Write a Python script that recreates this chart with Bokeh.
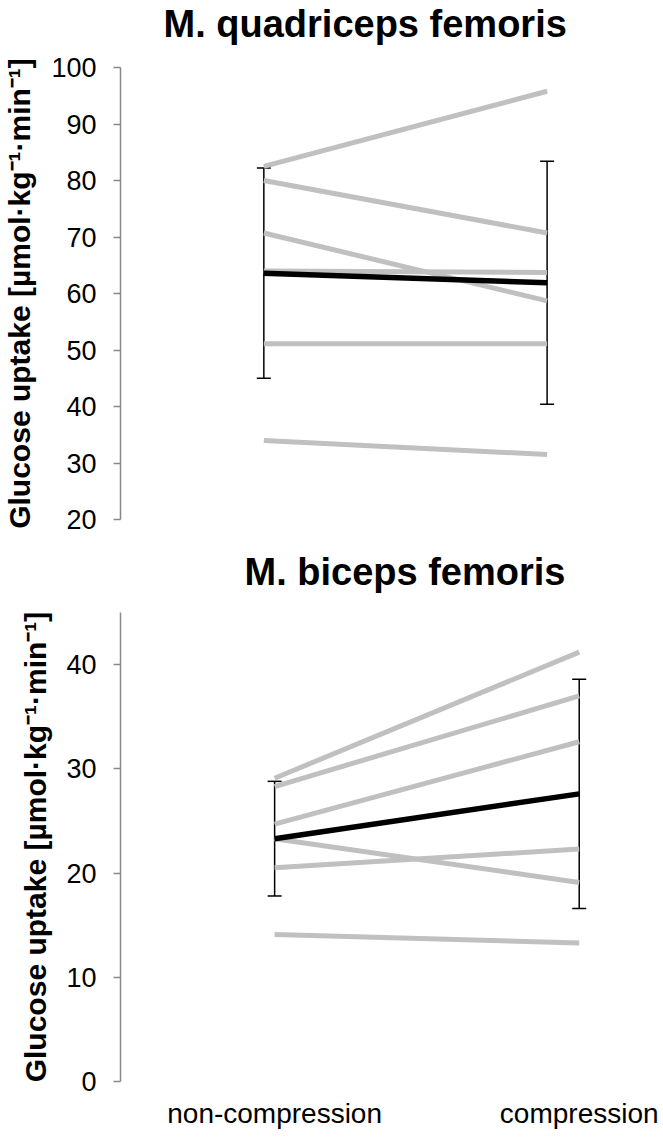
from bokeh.plotting import figure
from bokeh.models import ColumnDataSource, Whisker, Range1d, FixedTicker, TeeHead, Title
from bokeh.layouts import column
from bokeh.embed import file_html
from bokeh.resources import INLINE

# ---- data ----
categories = ["non-compression", "compression"]
quad_title = "M. quadriceps femoris"
quad_noncomp = [82.5, 80.0, 70.7, 64.0, 51.1, 34.0]
quad_comp = [95.8, 70.7, 58.7, 63.7, 51.1, 31.5]
quad_mean = [63.6, 61.9]
quad_sd = [18.6, 21.5]
quad_ticks = [20, 30, 40, 50, 60, 70, 80, 90, 100]

bic_title = "M. biceps femoris"
bic_noncomp = [29.1, 28.3, 24.7, 23.3, 20.5, 14.1]
bic_comp = [41.2, 37.0, 32.6, 19.1, 22.3, 13.3]
bic_mean = [23.3, 27.6]
bic_sd = [5.5, 11.0]
bic_ticks = [0, 10, 20, 30, 40]

ylabel = "Glucose uptake [µmol·kg⁻¹·min⁻¹]"

FONT = "Liberation Sans"
GRAY = "#c0c0c0"
AXIS = "#888888"


def make_panel(title, noncomp, comp, mean, sd, ticks, yr, xr, width, height, borders,
               spacer, title_offset, label_standoff, show_x):
    xpos = list(range(len(categories)))
    p = figure(width=width, height=height, output_backend="svg", toolbar_location=None,
               x_range=Range1d(*xr), y_range=Range1d(*yr),
               min_border_left=borders[0], min_border_right=borders[1],
               min_border_top=borders[2], min_border_bottom=borders[3],
               title=title)
    p.outline_line_color = None
    p.grid.visible = False
    p.background_fill_color = "white"
    p.border_fill_color = "white"

    # the figure's own title sits outermost
    p.title.align = "left"
    p.title.vertical_align = "top"
    p.title.text_font = FONT
    p.title.text_font_size = "38px"
    p.title.text_font_style = "bold"
    p.title.text_color = "black"
    p.title.standoff = 0
    p.title.offset = title_offset

    # spacer between the frame and the title
    p.add_layout(Title(text=" ", text_font_size="2px", standoff=spacer), "above")

    xs = [xpos[:] for _ in noncomp]
    ys = [[a, b] for a, b in zip(noncomp, comp)]
    p.multi_line(xs=xs, ys=ys, line_color=GRAY, line_width=5)
    p.line(x=xpos, y=mean, line_color="black", line_width=5.5)

    src = ColumnDataSource(dict(x=xpos,
                                upper=[m + s for m, s in zip(mean, sd)],
                                lower=[m - s for m, s in zip(mean, sd)]))
    w = Whisker(source=src, base="x", upper="upper", lower="lower",
                line_color="black", line_width=1.5,
                upper_head=TeeHead(size=14, line_color="black", line_width=1.5),
                lower_head=TeeHead(size=14, line_color="black", line_width=1.5))
    p.add_layout(w)

    ya = p.yaxis[0]
    ya.ticker = FixedTicker(ticks=ticks)
    ya.axis_line_color = AXIS
    ya.axis_line_width = 1.5
    ya.major_tick_line_color = AXIS
    ya.major_tick_line_width = 1.5
    ya.major_tick_out = 7
    ya.major_tick_in = 0
    ya.minor_tick_line_color = None
    ya.major_label_standoff = 17
    ya.major_label_text_font = FONT
    ya.major_label_text_font_size = "27px"
    ya.major_label_text_color = "black"
    ya.axis_label = ylabel
    ya.axis_label_text_font = FONT
    ya.axis_label_text_font_size = "30px"
    ya.axis_label_text_font_style = "bold"
    ya.axis_label_text_color = "black"
    ya.axis_label_standoff = label_standoff

    xa = p.xaxis[0]
    if show_x:
        xa.ticker = FixedTicker(ticks=xpos)
        xa.major_label_overrides = {i: c for i, c in enumerate(categories)}
        xa.axis_line_color = None
        xa.major_tick_line_color = None
        xa.minor_tick_line_color = None
        xa.major_label_standoff = 10
        xa.major_label_text_font = FONT
        xa.major_label_text_font_size = "28px"
        xa.major_label_text_color = "black"
    else:
        xa.visible = False
    return p


top = make_panel(quad_title, quad_noncomp, quad_comp, quad_mean, quad_sd, quad_ticks,
                 (20, 100), (-0.506, 1.365), 660, 548, (112, 10, 67, 29),
                 17, 43, 12, False)
bottom = make_panel(bic_title, bic_noncomp, bic_comp, bic_mean, bic_sd, bic_ticks,
                    (0, 45), (-0.506, 1.234), 660, 588, (114, 10, 64, 55),
                    14, 124, 11, True)

layout = column(top, bottom, spacing=0)
open("out.html", "w").write(file_html(layout, INLINE))
